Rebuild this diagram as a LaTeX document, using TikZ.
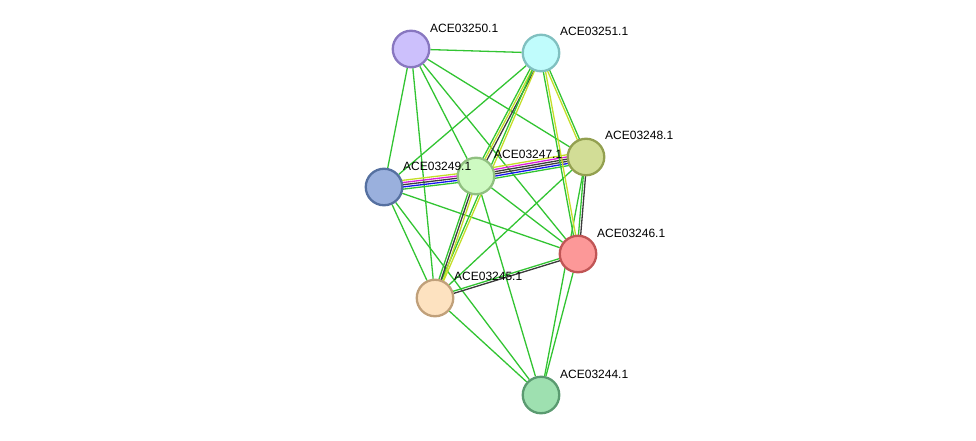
\documentclass[tikz,border=0pt]{standalone}
\usepackage{fontspec}
\setmainfont{Liberation Sans}
\usetikzlibrary{calc}
\pgfdeclarelayer{background}
\pgfsetlayers{background,main}
\definecolor{eg}{RGB}{50,196,50}
\definecolor{ey}{RGB}{196,222,40}
\definecolor{em}{RGB}{220,30,220}
\definecolor{ek}{RGB}{60,60,60}
\definecolor{eb}{RGB}{20,20,240}
\tikzset{
  prot/.style={circle, minimum size=36.5pt, inner sep=0pt, line width=2.3pt},
  lab/.style={anchor=west, font=\fontsize{12}{14}\selectfont, inner sep=0pt},
  edge/.style={line width=1.3pt},
}
\newcommand{\bund}[3]{%
  \foreach \o/\c in {#3}{%
    \draw[edge, \c] ($(#1.center)!\o pt!90:(#2.center)$) -- ($(#2.center)!\o pt!-90:(#1.center)$);
  }}
\begin{document}
\begin{tikzpicture}[x=1pt, y={(0,-1pt)}]
\useasboundingbox (0,0) rectangle (976,441);
\node[prot, draw={rgb,255:red,136;green,119;blue,192}, fill={rgb,255:red,204;green,192;blue,252}] (n50) at (411,49) {};
\node[prot, draw={rgb,255:red,128;green,192;blue,192}, fill={rgb,255:red,192;green,252;blue,252}] (n51) at (541,53) {};
\node[prot, draw={rgb,255:red,147;green,160;blue,80}, fill={rgb,255:red,210;green,221;blue,150}] (n48) at (586,157) {};
\node[prot, draw={rgb,255:red,85;green,112;blue,160}, fill={rgb,255:red,154;green,176;blue,221}] (n49) at (384,187) {};
\node[prot, draw={rgb,255:red,144;green,192;blue,128}, fill={rgb,255:red,206;green,250;blue,194}] (n47) at (476,176) {};
\node[prot, draw={rgb,255:red,192;green,85;blue,85}, fill={rgb,255:red,252;green,152;blue,152}] (n46) at (578,254) {};
\node[prot, draw={rgb,255:red,192;green,160;blue,122}, fill={rgb,255:red,253;green,226;blue,192}] (n45) at (435,298) {};
\node[prot, draw={rgb,255:red,90;green,154;blue,112}, fill={rgb,255:red,158;green,224;blue,176}] (n44) at (541,395) {};

\begin{pgfonlayer}{background}
\foreach \a/\b in {n50/n51,n50/n49,n50/n47,n50/n48,n50/n46,n50/n45,n51/n49,n48/n45,n48/n44,n49/n45,n49/n46,n49/n44,n47/n46,n47/n44,n45/n44,n46/n44}{
  \draw[edge, eg] (\a) -- (\b);
}
\bund{n49}{n47}{4.4/ey,2.2/em,0/ek,-2.2/eb,-4.4/eg}
\bund{n47}{n48}{5.5/ey,3.3/em,1.1/ek,-1.1/ek,-3.3/eb,-5.5/eg}
\bund{n51}{n47}{-2.2/eg,0/ey,2.2/ek}
\bund{n51}{n45}{-1.1/eg,1.1/ey}
\bund{n47}{n45}{-2.2/eg,0/ek,2.2/ey}
\bund{n51}{n48}{-1.1/ey,1.1/eg}
\bund{n51}{n46}{-1.1/eg,1.1/ey}
\bund{n48}{n46}{-1.1/eg,1.1/ek}
\bund{n46}{n45}{-1.1/eg,1.1/ek}
\end{pgfonlayer}

\node[lab] (l50) at (430,28) {ACE03250.1};
\node[lab] (l51) at (560,31) {ACE03251.1};
\node[lab] (l48) at (605,135) {ACE03248.1};
\node[lab] (l49) at (403,166) {ACE03249.1};
\node[lab] (l47) at (494,154) {ACE03247.1};
\node[lab] (l46) at (597,233) {ACE03246.1};
\node[lab] (l45) at (454,276) {ACE03245.1};
\node[lab] (l44) at (560,374) {ACE03244.1};
\end{tikzpicture}
\end{document}
